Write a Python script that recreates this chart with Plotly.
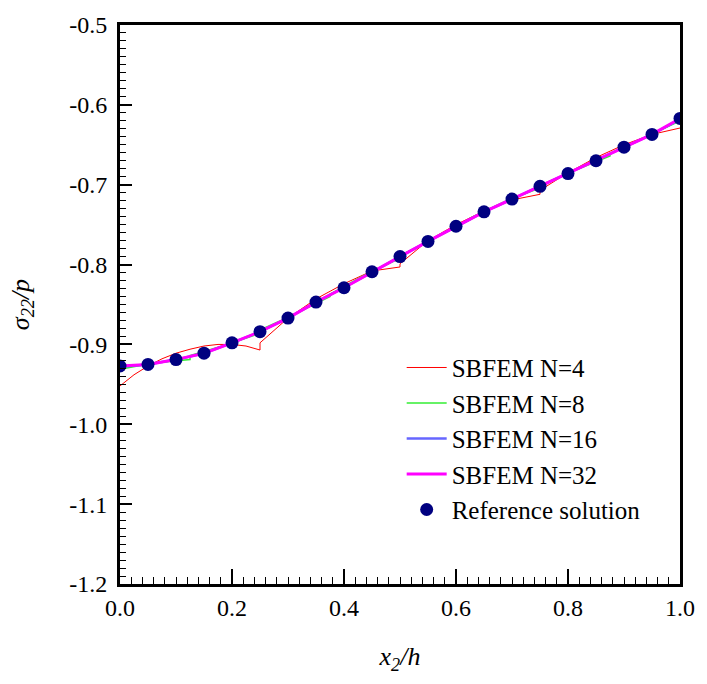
import plotly.graph_objects as go

# Reference solution
ref_x = [0.0, 0.05, 0.1, 0.15, 0.2, 0.25, 0.3, 0.35, 0.4, 0.45, 0.5,
         0.55, 0.6, 0.65, 0.7, 0.75, 0.8, 0.85, 0.9, 0.95, 1.0]
ref_y = [-0.927, -0.925, -0.919, -0.911, -0.898, -0.884, -0.867, -0.847, -0.829, -0.809, -0.790,
         -0.771, -0.752, -0.734, -0.718, -0.702, -0.686, -0.670, -0.653, -0.637, -0.617]

# SBFEM N=4
n4_x = [0.0, 0.025, 0.05, 0.075, 0.1, 0.125, 0.15, 0.175, 0.2, 0.225, 0.25,
        0.25, 0.3, 0.35, 0.4, 0.45, 0.5,
        0.5, 0.55, 0.6, 0.65, 0.7, 0.75,
        0.75, 0.8, 0.85, 0.9, 0.95, 1.0]
n4_y = [-0.952, -0.938, -0.927, -0.918, -0.911, -0.906, -0.902, -0.900, -0.900, -0.902, -0.907,
        -0.898, -0.867, -0.843, -0.824, -0.808, -0.803,
        -0.799, -0.770, -0.750, -0.733, -0.719, -0.712,
        -0.707, -0.685, -0.666, -0.650, -0.637, -0.629]

# SBFEM N=8
n8_x = [0.0, 0.0625, 0.125, 0.125, 0.1875, 0.25, 0.25, 0.3125, 0.375, 0.375, 0.4375, 0.5,
        0.5, 0.5625, 0.625, 0.625, 0.6875, 0.75, 0.75, 0.8125, 0.875, 0.875, 0.9375, 1.0]
n8_y = [-0.931, -0.923, -0.919, -0.914, -0.901, -0.886, -0.882, -0.862, -0.840, -0.837, -0.813, -0.792,
        -0.789, -0.766, -0.744, -0.742, -0.721, -0.704, -0.701, -0.682, -0.664, -0.661, -0.640, -0.620]

# SBFEM N=16
n16_x = ref_x
n16_y = [-0.928, -0.925, -0.919, -0.911, -0.898, -0.884, -0.867, -0.847, -0.829, -0.809, -0.790,
         -0.771, -0.752, -0.734, -0.718, -0.702, -0.686, -0.670, -0.653, -0.637, -0.618]

# SBFEM N=32
n32_x = ref_x
n32_y = [-0.927, -0.925, -0.919, -0.911, -0.898, -0.884, -0.867, -0.847, -0.829, -0.809, -0.790,
         -0.771, -0.752, -0.734, -0.718, -0.702, -0.686, -0.670, -0.653, -0.637, -0.617]

FONT = "Times New Roman, Liberation Serif, DejaVu Serif, serif"

fig = go.Figure()
fig.add_trace(go.Scatter(x=n4_x, y=n4_y, mode="lines", name="SBFEM N=4",
                         line=dict(color="#ff0000", width=1)))
fig.add_trace(go.Scatter(x=n8_x, y=n8_y, mode="lines", name="SBFEM N=8",
                         line=dict(color="#33ee33", width=1.5)))
fig.add_trace(go.Scatter(x=n16_x, y=n16_y, mode="lines", name="SBFEM N=16",
                         line=dict(color="#6666ff", width=2.5)))
fig.add_trace(go.Scatter(x=n32_x, y=n32_y, mode="lines", name="SBFEM N=32",
                         line=dict(color="#ff00ff", width=3)))
fig.add_trace(go.Scatter(x=ref_x, y=ref_y, mode="markers", name="Reference solution",
                         marker=dict(color="#000080", size=13, line=dict(width=0))))

fig.update_layout(
    width=707, height=684,
    margin=dict(l=120, r=21, t=20, b=100),
    paper_bgcolor="white", plot_bgcolor="white",
    font=dict(family=FONT, size=24, color="black"),
    showlegend=True,
    legend=dict(x=0.503, y=0.428, xanchor="left", yanchor="top",
                bgcolor="rgba(0,0,0,0)", borderwidth=0,
                font=dict(family=FONT, size=25), tracegroupgap=0,
                itemwidth=40),
    xaxis=dict(range=[0, 1], tickvals=[0, 0.2, 0.4, 0.6, 0.8, 1.0],
               ticktext=["0.0", "0.2", "0.4", "0.6", "0.8", "1.0"],
               ticklabeloverflow="allow",
               ticks="inside", ticklen=15, tickwidth=1.5, tickcolor="black",
               minor=dict(dtick=0.02, ticks="inside", ticklen=7, tickwidth=1.2, tickcolor="black"),
               showline=True, linewidth=3, linecolor="black", mirror=True,
               showgrid=False, zeroline=False,
               tickfont=dict(family=FONT, size=24),
               title=dict(text="<i>x</i><sub><i>2</i></sub><i>/h</i>",
                          font=dict(family=FONT, size=26), standoff=28)),
    yaxis=dict(range=[-1.2, -0.5], tickvals=[-1.2, -1.1, -1.0, -0.9, -0.8, -0.7, -0.6, -0.5],
               ticktext=["-1.2", "-1.1", "-1.0", "-0.9", "-0.8", "-0.7", "-0.6", "-0.5"],
               ticklabeloverflow="allow", ticklabelstandoff=5,
               ticks="inside", ticklen=12, tickwidth=1.5, tickcolor="black",
               minor=dict(dtick=0.01, ticks="inside", ticklen=6, tickwidth=1.2, tickcolor="black"),
               showline=True, linewidth=3, linecolor="black", mirror=True,
               showgrid=False, zeroline=False,
               tickfont=dict(family=FONT, size=24),
               title=dict(text="<i>σ</i><sub><i>22</i></sub><i>/p</i>",
                          font=dict(family=FONT, size=26), standoff=33)),
)

fig.write_html("out.html")
